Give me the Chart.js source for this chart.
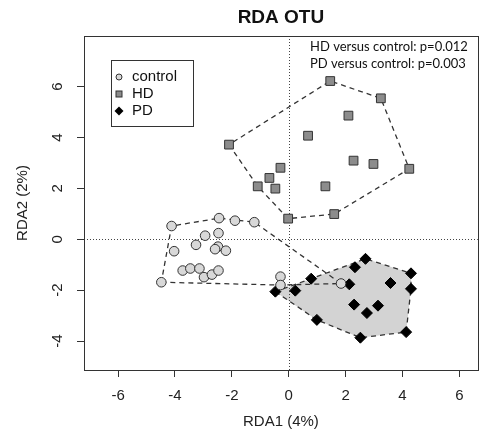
<!DOCTYPE html>
<html>
<head>
<meta charset="utf-8">
<script src="https://cdn.jsdelivr.net/npm/chart.js@4.4.1/dist/chart.umd.min.js"></script>
<style>
  body { margin: 0; background: #fff; }
</style>
</head>
<body>
<canvas id="myChart" width="485" height="435"></canvas>
<script>
// values
var controlX = [-4.12, -2.45, -1.89, -1.21, -2.94, -2.47, -3.26, -4.03, -2.49, -2.59, -2.21, -3.73, -3.46, -3.14, -2.98, -2.70, -2.47, -4.48, -0.29, -0.29, 1.84];
var controlY = [0.52, 0.83, 0.73, 0.67, 0.14, 0.24, -0.22, -0.47, -0.29, -0.39, -0.45, -1.23, -1.15, -1.15, -1.49, -1.39, -1.23, -1.69, -1.47, -1.80, -1.74];
var hdX = [1.46, 3.24, 2.10, 0.68, -2.10, 4.24, 2.28, 2.98, -0.29, -0.68, -1.09, -0.47, 1.29, -0.02, 1.60];
var hdY = [6.22, 5.54, 4.86, 4.07, 3.72, 2.77, 3.09, 2.96, 2.81, 2.41, 2.08, 1.99, 2.08, 0.81, 0.99];
var pdX = [2.70, 2.33, 4.30, 0.79, 2.13, 3.58, 4.30, -0.47, 0.23, 2.30, 3.14, 2.75, 0.99, 4.13, 2.52];
var pdY = [-0.77, -1.10, -1.34, -1.55, -1.77, -1.72, -1.95, -2.06, -2.02, -2.57, -2.61, -2.90, -3.17, -3.65, -3.87];
var xTicks = [-6, -4, -2, 0, 2, 4, 6];
var yTicks = [-4, -2, 0, 2, 4, 6];

function pts(xs, ys) {
  return xs.map(function (x, i) { return { x: x, y: ys[i] }; });
}

// convex hull (monotone chain), closed
function hull(p) {
  p = p.slice().sort(function (a, b) { return a.x - b.x || a.y - b.y; });
  var cross = function (o, a, b) { return (a.x - o.x) * (b.y - o.y) - (a.y - o.y) * (b.x - o.x); };
  var lo = [], up = [];
  p.forEach(function (q) {
    while (lo.length >= 2 && cross(lo[lo.length - 2], lo[lo.length - 1], q) <= 0) lo.pop();
    lo.push(q);
  });
  p.slice().reverse().forEach(function (q) {
    while (up.length >= 2 && cross(up[up.length - 2], up[up.length - 1], q) <= 0) up.pop();
    up.push(q);
  });
  lo.pop(); up.pop();
  var h = lo.concat(up);
  h.push(h[0]);
  return h;
}

var controlPts = pts(controlX, controlY);
var hdPts = pts(hdX, hdY);
var pdPts = pts(pdX, pdY);
var pdHull = hull(pdPts);

var font = 'Liberation Sans, Arial, sans-serif';

var extras = {
  id: 'extras',
  beforeDatasetsDraw: function (chart) {
    var c = chart.ctx, xs = chart.scales.x, ys = chart.scales.y, a = chart.chartArea;
    c.save();
    // shaded PD hull
    c.beginPath();
    pdHull.forEach(function (p, i) {
      var px = xs.getPixelForValue(p.x), py = ys.getPixelForValue(p.y);
      if (i === 0) c.moveTo(px, py); else c.lineTo(px, py);
    });
    c.closePath();
    c.fillStyle = '#d3d3d3';
    c.fill();
    // dotted zero lines
    c.strokeStyle = '#444';
    c.lineWidth = 1;
    c.setLineDash([1, 2]);
    var x0 = Math.round(xs.getPixelForValue(0)) + 0.5;
    var y0 = Math.round(ys.getPixelForValue(0)) + 0.5;
    c.beginPath();
    c.moveTo(x0, a.top); c.lineTo(x0, a.bottom);
    c.moveTo(a.left, y0); c.lineTo(a.right, y0);
    c.stroke();
    c.restore();
  },
  afterDraw: function (chart) {
    var c = chart.ctx, ys = chart.scales.y, a = chart.chartArea;
    c.save();
    // box
    c.strokeStyle = '#333';
    c.lineWidth = 1;
    c.strokeRect(Math.round(a.left) + 0.5, Math.round(a.top) + 0.5, Math.round(a.right - a.left), Math.round(a.bottom - a.top));
    // title
    c.fillStyle = '#111';
    c.textAlign = 'center';
    c.textBaseline = 'middle';
    c.font = 'bold 19px ' + font;
    c.fillText('RDA OTU', (a.left + a.right) / 2, 18);
    // axis titles
    c.font = '15px ' + font;
    c.fillStyle = '#222';
    c.fillText('RDA1 (4%)', (a.left + a.right) / 2, 422);
    // y tick labels, rotated
    c.font = '15px ' + font;
    yTicks.forEach(function (v) {
      c.save();
      c.translate(58, ys.getPixelForValue(v));
      c.rotate(-Math.PI / 2);
      c.fillText(String(v), 0, 0);
      c.restore();
    });
    c.save();
    c.font = '15px ' + font;
    c.translate(23, (a.top + a.bottom) / 2);
    c.rotate(-Math.PI / 2);
    c.fillText('RDA2 (2%)', 0, 0);
    c.restore();
    // p-values
    c.textAlign = 'left';
    c.font = '13px Lato, sans-serif';
    c.fillStyle = '#111';
    c.fillText('HD versus control: p=0.012', 310, 47);
    c.fillText('PD versus control: p=0.003', 310, 64);
    // legend
    c.strokeStyle = '#333';
    c.strokeRect(111.5, 60.5, 82, 66);
    c.font = '15px ' + font;
    c.fillStyle = '#111';
    c.fillText('control', 132, 77);
    c.fillText('HD', 132, 94);
    c.fillText('PD', 132, 111);
    c.lineWidth = 1;
    c.beginPath();
    c.arc(119, 77, 3, 0, Math.PI * 2);
    c.fillStyle = '#d8d8d8';
    c.fill();
    c.stroke();
    c.fillStyle = '#8c8c8c';
    c.fillRect(116, 91, 6, 6);
    c.strokeRect(116, 91, 6, 6);
    c.fillStyle = '#000';
    c.beginPath();
    c.moveTo(119, 106.5); c.lineTo(123.5, 111); c.lineTo(119, 115.5); c.lineTo(114.5, 111);
    c.closePath();
    c.fill();
    c.restore();
  }
};

var hullLine = {
  showLine: true,
  pointRadius: 0,
  borderColor: '#333',
  borderWidth: 1.3,
  borderDash: [5, 4],
  fill: false,
  tension: 0
};

var ctx = document.getElementById('myChart').getContext('2d');

var myChart = new Chart(ctx, {
  type: 'scatter',
  data: {
    datasets: [
      {
        label: 'control',
        data: controlPts,
        pointStyle: 'circle',
        pointRadius: 4.8,
        backgroundColor: '#d8d8d8',
        borderColor: '#333',
        borderWidth: 1
      },
      {
        label: 'HD',
        data: hdPts,
        pointStyle: 'rect',
        pointRadius: 6.2,
        backgroundColor: '#8c8c8c',
        borderColor: '#333',
        borderWidth: 1
      },
      {
        label: 'PD',
        data: pdPts,
        pointStyle: 'rectRot',
        pointRadius: 5.5,
        backgroundColor: '#000',
        borderColor: '#000',
        borderWidth: 1
      },
      Object.assign({ label: 'control hull', data: hull(controlPts) }, hullLine),
      Object.assign({ label: 'HD hull', data: hull(hdPts) }, hullLine),
      Object.assign({ label: 'PD hull', data: pdHull }, hullLine)
    ]
  },
  options: {
    responsive: false,
    animation: false,
    layout: { padding: { top: 36, right: 5, left: 0, bottom: 0 } },
    plugins: {
      legend: { display: false },
      tooltip: { enabled: false }
    },
    scales: {
      x: {
        type: 'linear',
        min: -7.2,
        max: 6.65,
        afterBuildTicks: function (s) { s.ticks = xTicks.map(function (v) { return { value: v }; }); },
        afterFit: function (s) { s.height = 65; },
        grid: { drawOnChartArea: false, drawTicks: true, tickLength: 7, color: '#333' },
        border: { color: '#333' },
        ticks: { font: { size: 15, family: font }, color: '#222', padding: 10, maxRotation: 0 }
      },
      y: {
        type: 'linear',
        min: -5.14,
        max: 7.99,
        afterBuildTicks: function (s) { s.ticks = yTicks.map(function (v) { return { value: v }; }); },
        afterFit: function (s) { s.width = 84; },
        grid: { drawOnChartArea: false, drawTicks: true, tickLength: 7, color: '#333' },
        border: { color: '#333' },
        ticks: { display: false }
      }
    }
  },
  plugins: [extras]
});
</script>
</body>
</html>
